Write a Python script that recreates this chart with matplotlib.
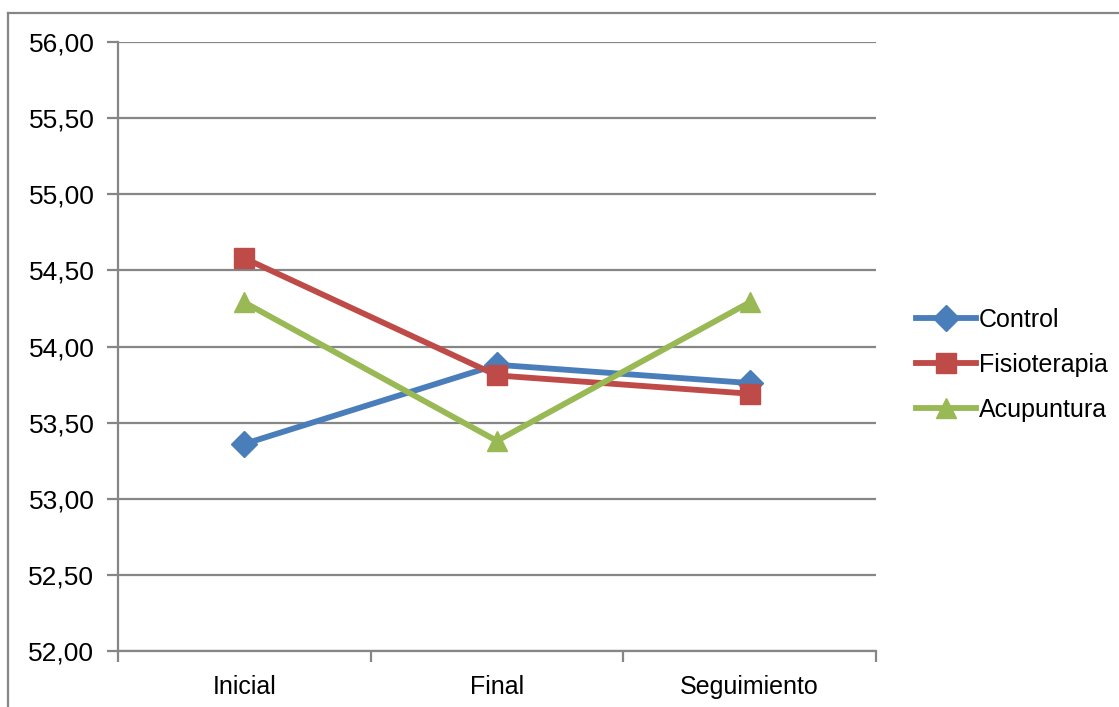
import matplotlib.pyplot as plt
from matplotlib.lines import Line2D
from matplotlib.ticker import FuncFormatter

plt.rcParams['font.family'] = ['Liberation Sans', 'DejaVu Sans']

# Data
momentos = ['Inicial', 'Final', 'Seguimiento']
control = [53.36, 53.88, 53.76]
fisioterapia = [54.58, 53.81, 53.69]
acupuntura = [54.29, 53.38, 54.29]

grid_gray = '#868686'

fig = plt.figure(figsize=(11.19, 7.07), dpi=100)
ax = fig.add_axes([0.1054, 0.0792, 0.6774, 0.8614])

x = range(len(momentos))
ax.plot(x, control, color='#4A7EBB', lw=4.2, marker='D', ms=13,
        mec='#4A7EBB', label='Control', zorder=3)
ax.plot(x, fisioterapia, color='#BE4B48', lw=4.2, marker='s', ms=14,
        mec='#BE4B48', label='Fisioterapia', zorder=3)
ax.plot(x, acupuntura, color='#98B954', lw=4.2, marker='^', ms=15,
        mec='#98B954', label='Acupuntura', zorder=3)

ax.set_xlim(-0.5, 2.5)
ax.set_ylim(52, 56)
ax.set_yticks([52 + 0.5 * i for i in range(9)])
ax.yaxis.set_major_formatter(FuncFormatter(lambda v, p: f'{v:.2f}'.replace('.', ',')))
ax.set_xticks(list(x))
ax.set_xticklabels(momentos)
ax.set_xticks([-0.5, 0.5, 1.5, 2.5], minor=True)
ax.tick_params(axis='x', which='major', length=0, pad=17, labelsize=18)
ax.tick_params(axis='x', which='minor', length=8, width=1.6, color=grid_gray)
ax.tick_params(axis='y', length=8, width=1.6, color=grid_gray, pad=9, labelsize=19)

ax.grid(axis='y', color=grid_gray, lw=1.6)
ax.set_axisbelow(True)
for side in ['top', 'right']:
    ax.spines[side].set_visible(False)
for side in ['left', 'bottom']:
    ax.spines[side].set_color(grid_gray)
    ax.spines[side].set_linewidth(1.6)

ax.legend(loc='center left', bbox_to_anchor=(1.04, 0.47), frameon=False,
          fontsize=18, handlelength=2.4, handletextpad=0.1, labelspacing=0.85,
          borderaxespad=0)

# outer chart frame
fig.add_artist(Line2D([8 / 1119, 8 / 1119], [0, 1 - 13 / 707],
                      transform=fig.transFigure, color=grid_gray, lw=1.6))
fig.add_artist(Line2D([8 / 1119, 1], [1 - 13 / 707, 1 - 13 / 707],
                      transform=fig.transFigure, color=grid_gray, lw=1.6))

fig.savefig('out.png', dpi=100)
